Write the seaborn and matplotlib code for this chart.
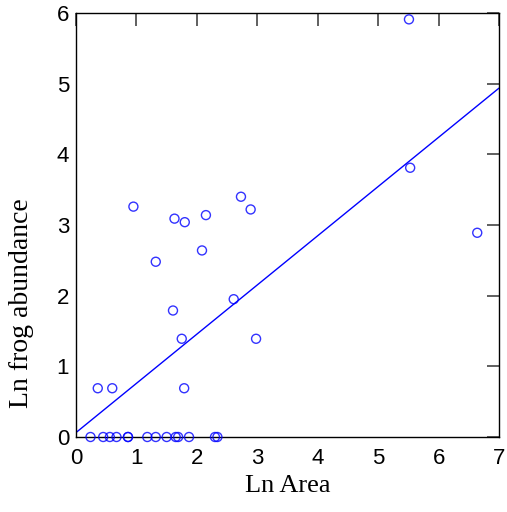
import matplotlib
matplotlib.use("Agg")
import matplotlib.pyplot as plt
import seaborn as sns
import pandas as pd

# Log-transformed pond area and frog abundance for each surveyed site
ln_area = [0.24, 0.45, 0.56, 0.67, 0.86, 0.86, 1.18, 1.32, 1.50, 1.65, 1.69,
           1.87, 2.30, 2.34,
           0.36, 0.60, 1.79, 1.75, 2.98, 1.605, 2.61, 1.32, 2.085, 1.63,
           1.80, 2.15, 2.89, 0.95, 2.73, 5.53, 6.64, 5.51]
ln_frogs = [0.0, 0.0, 0.0, 0.0, 0.0, 0.0, 0.0, 0.0, 0.0, 0.0, 0.0,
            0.0, 0.0, 0.0,
            0.69, 0.69, 0.69, 1.39, 1.39, 1.79, 1.95, 2.48, 2.64, 3.09,
            3.04, 3.14, 3.22, 3.26, 3.40, 3.81, 2.89, 5.91]

x_ticks = [0, 1, 2, 3, 4, 5, 6, 7]
y_ticks = [0, 1, 2, 3, 4, 5, 6]

df = pd.DataFrame({"ln_area": ln_area, "ln_frogs": ln_frogs})

sns.set_theme(style="white")
plt.rcParams["font.family"] = ["Liberation Sans", "DejaVu Sans"]

fig = plt.figure(figsize=(5.07, 5.12), dpi=100)
ax = fig.add_axes([76 / 507, 1 - 437 / 512, 423 / 507, 424 / 512])
ax.set_xlim(0, 7)
ax.set_ylim(0, 6)

blue = "#0000ff"
sns.regplot(data=df, x="ln_area", y="ln_frogs", ax=ax, ci=None,
            truncate=False, color=blue,
            scatter_kws=dict(marker="o", s=42, facecolors="none",
                             edgecolors=blue, linewidths=1.0, clip_on=False,
                             zorder=3),
            line_kws=dict(color=blue, lw=1.0))

ax.set_xlim(0, 7)
ax.set_ylim(0, 6)
ax.set_xticks(x_ticks)
ax.set_yticks(y_ticks)

for s in ax.spines.values():
    s.set_visible(True)
    s.set_color("black")
    s.set_linewidth(1.0)

ax.tick_params(axis="both", direction="in", length=9, width=1.2,
               color="#444444", top=True, right=True, labelsize=16,
               labelcolor="black")
ax.tick_params(axis="x", pad=8)
ax.tick_params(axis="y", pad=5)

ax.set_xlabel("Ln Area", family=["Liberation Serif"], fontsize=19,
              color="black", labelpad=4)
ax.set_ylabel("Ln frog abundance", family=["Liberation Serif"], fontsize=20,
              color="black", labelpad=16, y=0.316)

fig.savefig("out.png", dpi=100)
